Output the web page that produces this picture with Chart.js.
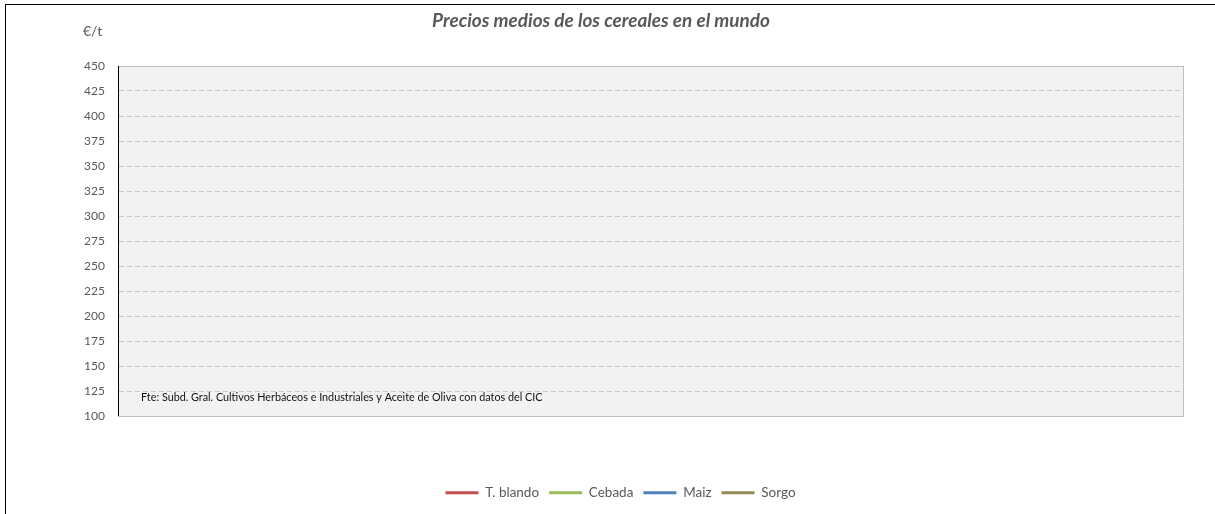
<!DOCTYPE html>
<html>
<head>
<meta charset="utf-8">
<script src="https://cdn.jsdelivr.net/npm/chart.js@4/dist/chart.umd.min.js"></script>
<style>
  html, body { margin: 0; padding: 0; background: #fff; overflow: hidden; }
  #frame { position: absolute; left: 5px; top: 4px; width: 1400px; height: 700px; border: 1px solid #000; box-sizing: border-box; }
  #wrap { position: absolute; left: 0; top: 0; width: 1215px; height: 514px; }
</style>
</head>
<body>
<div id="frame"></div>
<div id="wrap"><canvas id="c" width="1215" height="514"></canvas></div>
<script>
// ---- Data (the reference chart shows no plotted values) ----
const categories = [];
const seriesNames = ["T. blando", "Cebada", "Maiz", "Sorgo"];
const tBlando = [];
const cebada = [];
const maiz = [];
const sorgo = [];
const yTicks = [100, 125, 150, 175, 200, 225, 250, 275, 300, 325, 350, 375, 400, 425, 450];
const titleText = "Precios medios de los cereales en el mundo";
const unitText = "€/t";
const sourceText = "Fte: Subd. Gral. Cultivos Herbáceos e Industriales y Aceite de Oliva con datos del CIC";

const colors = ["#c0504d", "#9bbb59", "#4f81bd", "#948a54"];
const FONT = "Lato, 'Open Sans', sans-serif";

function fitFont(ctx, style, text, targetW) {
  ctx.font = style + " 20px " + FONT;
  const w = ctx.measureText(text).width;
  const size = 20 * targetW / w;
  ctx.font = style + " " + size.toFixed(2) + "px " + FONT;
}

const L = 57;
const annot = {
  id: 'annot',
  beforeDraw(chart) {
    const {ctx, chartArea: a} = chart;
    ctx.save();
    ctx.fillStyle = '#f2f2f2';
    ctx.fillRect(a.left, a.top, a.right - a.left, a.bottom - a.top);
    ctx.restore();
  },
  afterDatasetsDraw(chart) {
    const {ctx, chartArea: a} = chart;
    ctx.save();
    ctx.strokeStyle = '#bfbfbf';
    ctx.lineWidth = 1;
    ctx.strokeRect(a.left + 0.5, a.top + 0.5, a.right - a.left - 1, a.bottom - a.top);
    ctx.strokeStyle = '#000';
    ctx.beginPath();
    ctx.moveTo(a.left + 0.5, a.top);
    ctx.lineTo(a.left + 0.5, a.bottom);
    ctx.stroke();
    ctx.fillStyle = '#111';
    fitFont(ctx, "normal", sourceText, 402);
    ctx.textBaseline = 'middle';
    ctx.textAlign = 'left';
    ctx.fillText(sourceText, 141, 398);
    ctx.restore();
  },
  afterDraw(chart) {
    const {ctx} = chart;
    ctx.save();
    ctx.fillStyle = '#595959';
    ctx.textBaseline = 'middle';
    ctx.textAlign = 'center';
    fitFont(ctx, "italic bold", titleText, 338);
    ctx.fillText(titleText, 601, 21);
    ctx.textAlign = 'left';
    ctx.font = "14px " + FONT;
    ctx.fillText(unitText, 83, 31);
    ctx.restore();
  }
};

const seriesData = [tBlando, cebada, maiz, sorgo];
new Chart(document.getElementById('c'), {
  type: 'line',
  data: {
    labels: categories,
    datasets: seriesNames.map((n, i) => ({
      label: n,
      data: seriesData[i],
      borderColor: colors[i],
      backgroundColor: colors[i],
      borderWidth: 3,
      borderCapStyle: 'round',
      pointRadius: 0
    }))
  },
  options: {
    responsive: false,
    animation: false,
    layout: { padding: { left: L, right: 31, top: 66, bottom: 8 } },
    scales: {
      x: {
        display: true,
        ticks: { display: false },
        grid: { display: false },
        border: { display: false },
        afterFit(s) { s.height = 60; }
      },
      y: {
        min: 100, max: 450,
        afterBuildTicks(s) { s.ticks = yTicks.map(v => ({value: v})); },
        ticks: { color: '#595959', font: { family: FONT, size: 12 }, padding: 13 },
        grid: { color: '#c8c8c8', drawTicks: false, tickLength: 0 },
        border: { display: true, color: '#000', width: 1, dash: [5, 3] },
        afterFit(s) { s.width = 118 - L; }
      }
    },
    plugins: {
      title: { display: false },
      tooltip: { enabled: false },
      legend: {
        position: 'bottom',
        maxHeight: 30,
        labels: {
          usePointStyle: true,
          pointStyle: 'line',
          pointStyleWidth: 33,
          boxHeight: 12,
          padding: 10,
          color: '#595959',
          font: { family: FONT, size: 13.5 }
        }
      }
    }
  },
  plugins: [annot]
});
</script>
</body>
</html>
